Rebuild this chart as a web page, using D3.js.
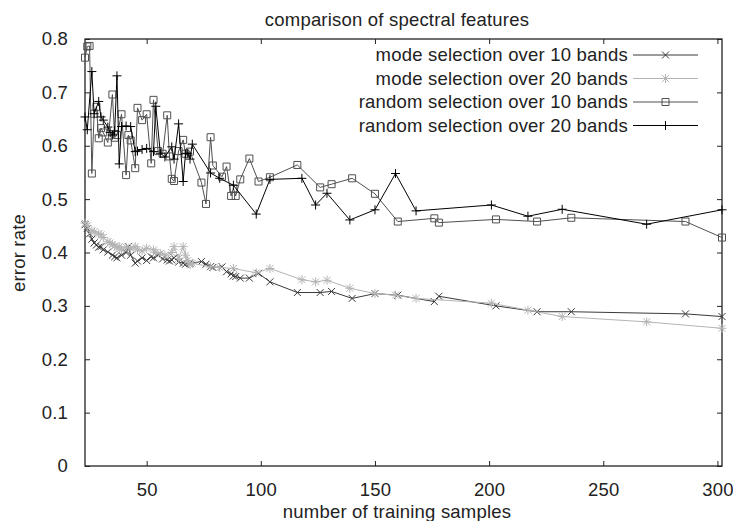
<!DOCTYPE html>
<html>
<head>
<meta charset="utf-8">
<script src="https://cdn.jsdelivr.net/npm/d3@7"></script>
<style>
  body { margin: 0; background: #fff; }
  svg text { font-family: "Liberation Sans", Arial, sans-serif; font-size: 18.5px; letter-spacing: 0.2px; fill: #222; }
</style>
</head>
<body>
<svg id="chart" width="733" height="521"></svg>
<script>
// sample counts (10-band runs and 20-band runs use different sample sets)
const x10 = [23, 24, 25, 26, 27, 28, 29, 30, 31, 33, 35, 36, 37, 39, 41, 42, 43, 45, 46, 48,
  50, 52, 53, 55, 57, 59, 60, 61, 62, 64, 66, 67, 69, 74, 76, 78, 79, 83, 85, 87,
  88, 89, 91, 95, 99, 104, 116, 126, 131, 140, 150, 160, 176, 178, 203, 221, 236, 286, 302];
const mode10 = [0.452, 0.445, 0.435, 0.425, 0.418, 0.414, 0.410, 0.411, 0.405, 0.401, 0.395, 0.392, 0.390, 0.395, 0.400, 0.411, 0.395, 0.380, 0.384, 0.390,
  0.385, 0.392, 0.390, 0.395, 0.388, 0.386, 0.384, 0.386, 0.390, 0.382, 0.380, 0.378, 0.380, 0.383, 0.378, 0.374, 0.372, 0.373, 0.364, 0.360,
  0.356, 0.355, 0.352, 0.352, 0.361, 0.345, 0.325, 0.325, 0.327, 0.314, 0.323, 0.320, 0.308, 0.318, 0.300, 0.289, 0.289, 0.285, 0.280];
const random10 = [0.765, 0.786, 0.787, 0.548, 0.660, 0.673, 0.614, 0.633, 0.625, 0.606, 0.696, 0.615, 0.620, 0.659, 0.545, 0.620, 0.610, 0.558, 0.671, 0.648,
  0.659, 0.567, 0.686, 0.590, 0.585, 0.657, 0.580, 0.538, 0.534, 0.590, 0.611, 0.585, 0.589, 0.531, 0.491, 0.616, 0.563, 0.542, 0.561, 0.506,
  0.520, 0.506, 0.537, 0.576, 0.533, 0.541, 0.564, 0.522, 0.528, 0.539, 0.510, 0.458, 0.464, 0.456, 0.462, 0.458, 0.465, 0.458, 0.428];

const x20 = [23, 24, 26, 27, 29, 30, 31, 33, 34, 35, 36, 37, 38, 39, 41, 43, 45, 46, 48, 50,
  53, 54, 56, 58, 61, 62, 64, 66, 67, 68, 69, 70, 78, 82, 88, 98, 104, 118, 124, 129,
  139, 150, 159, 168, 201, 217, 232, 269, 302];
const mode20 = [0.455, 0.450, 0.440, 0.439, 0.435, 0.433, 0.428, 0.420, 0.418, 0.415, 0.412, 0.410, 0.411, 0.405, 0.410, 0.408, 0.411, 0.405, 0.403, 0.408,
  0.405, 0.400, 0.398, 0.395, 0.400, 0.411, 0.389, 0.411, 0.395, 0.385, 0.377, 0.380, 0.373, 0.372, 0.370, 0.362, 0.370, 0.349, 0.345, 0.348,
  0.333, 0.323, 0.320, 0.314, 0.305, 0.292, 0.280, 0.270, 0.258];
const random20 = [0.654, 0.630, 0.739, 0.660, 0.683, 0.654, 0.648, 0.635, 0.625, 0.620, 0.628, 0.731, 0.566, 0.636, 0.637, 0.636, 0.589, 0.590, 0.593, 0.595,
  0.589, 0.674, 0.586, 0.579, 0.598, 0.575, 0.641, 0.533, 0.585, 0.586, 0.575, 0.603, 0.549, 0.539, 0.526, 0.472, 0.537, 0.539, 0.489, 0.511,
  0.461, 0.480, 0.548, 0.478, 0.489, 0.468, 0.481, 0.453, 0.480];

const seriesNames = ["mode selection over 10 bands", "mode selection over 20 bands",
  "random selection over 10 bands", "random selection over 20 bands"];
const xTicks = [50, 100, 150, 200, 250, 300];
const yTicks = [0, 0.1, 0.2, 0.3, 0.4, 0.5, 0.6, 0.7, 0.8];
const yTickLabels = ["0", "0.1", "0.2", "0.3", "0.4", "0.5", "0.6", "0.7", "0.8"];

const series = [
  { name: seriesNames[0], xs: x10, ys: mode10, color: "#3a3a3a", marker: "cross" },
  { name: seriesNames[1], xs: x20, ys: mode20, color: "#b4b4b4", marker: "star" },
  { name: seriesNames[2], xs: x10, ys: random10, color: "#505050", marker: "square" },
  { name: seriesNames[3], xs: x20, ys: random20, color: "#000000", marker: "plus" }
];

const svg = d3.select("#chart");
const plotL = 85, plotR = 722, plotT = 39, plotB = 466;

const x = d3.scaleLinear().domain([23, 302]).range([plotL, plotR]);
const y = d3.scaleLinear().domain([0, 0.8]).range([plotB, plotT]);

// marker shapes drawn as strokes, gnuplot style
const markerPath = {
  cross: "M-3.5,-3.5L3.5,3.5M-3.5,3.5L3.5,-3.5",
  plus: "M-4.5,0H4.5M0,-4.5V4.5",
  star: "M-4.5,0H4.5M0,-4.5V4.5M-3.5,-3.5L3.5,3.5M-3.5,3.5L3.5,-3.5",
  square: "M-3.5,-3.5H3.5V3.5H-3.5Z"
};

// axes with inward ticks, mirrored on top/right
const yAxis = d3.axisLeft(y).tickValues(yTicks).tickFormat((d, i) => yTickLabels[i])
  .tickSizeInner(-5).tickSizeOuter(0).tickPadding(17);
const xAxis = d3.axisBottom(x).tickValues(xTicks).tickFormat(d3.format("d"))
  .tickSizeInner(-5).tickSizeOuter(0).tickPadding(17);

svg.append("g").attr("transform", `translate(${plotL},0)`).call(yAxis);
svg.append("g").attr("transform", `translate(0,${plotB})`).call(xAxis);
svg.append("g").attr("transform", `translate(${plotR},0)`)
  .call(d3.axisRight(y).tickValues(yTicks).tickFormat("").tickSizeInner(-5).tickSizeOuter(0));
svg.append("g").attr("transform", `translate(0,${plotT})`)
  .call(d3.axisTop(x).tickValues(xTicks).tickFormat("").tickSizeInner(-5).tickSizeOuter(0));

svg.selectAll(".domain").remove();
svg.selectAll(".tick line").attr("stroke", "#222").attr("stroke-width", 1);
svg.selectAll(".tick text").style("font-size", "18.5px").attr("fill", "#222")
  .style("font-family", "'Liberation Sans', Arial, sans-serif");

svg.append("rect")
  .attr("x", plotL).attr("y", plotT)
  .attr("width", plotR - plotL).attr("height", plotB - plotT)
  .attr("fill", "none").attr("stroke", "#222").attr("stroke-width", 1.3);

// data
const line = d3.line().x(d => x(d[0])).y(d => y(d[1]));

series.forEach(s => {
  const pts = s.xs.map((v, i) => [v, s.ys[i]]);
  const g = svg.append("g");
  g.append("path")
    .attr("d", line(pts))
    .attr("fill", "none")
    .attr("stroke", s.color)
    .attr("stroke-width", 1);
  g.selectAll("path.m")
    .data(pts)
    .enter().append("path")
    .attr("class", "m")
    .attr("transform", d => `translate(${x(d[0])},${y(d[1])})`)
    .attr("d", markerPath[s.marker])
    .attr("fill", "none")
    .attr("stroke", s.color)
    .attr("stroke-width", 1);
});

// legend
const legend = svg.append("g");
series.forEach((s, i) => {
  const ly = 55 + i * 23.5;
  legend.append("text")
    .attr("x", 628).attr("y", ly)
    .attr("dy", "0.35em")
    .attr("text-anchor", "end")
    .text(s.name);
  legend.append("line")
    .attr("x1", 633).attr("x2", 698)
    .attr("y1", ly).attr("y2", ly)
    .attr("stroke", s.color).attr("stroke-width", 1);
  legend.append("path")
    .attr("transform", `translate(665.5,${ly})`)
    .attr("d", markerPath[s.marker])
    .attr("fill", "none")
    .attr("stroke", s.color)
    .attr("stroke-width", 1);
});

// titles
svg.append("text")
  .attr("x", 397).attr("y", 26)
  .attr("text-anchor", "middle")
  .text("comparison of spectral features");

svg.append("text")
  .attr("x", 397).attr("y", 518)
  .attr("text-anchor", "middle")
  .text("number of training samples");

svg.append("text")
  .attr("transform", "translate(25,253) rotate(-90)")
  .attr("text-anchor", "middle")
  .text("error rate");
</script>
</body>
</html>
